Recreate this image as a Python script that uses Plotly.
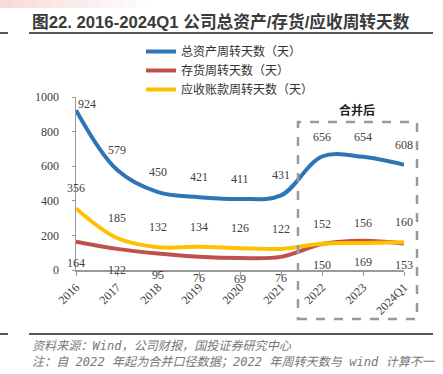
import plotly.graph_objects as go

categories = ["2016", "2017", "2018", "2019", "2020", "2021", "2022", "2023", "2024Q1"]
total_asset_days = [924, 579, 450, 421, 411, 431, 656, 654, 608]
inventory_days = [164, 122, 95, 76, 69, 76, 150, 169, 153]
receivable_days = [356, 185, 132, 134, 126, 122, 152, 156, 160]
y_ticks = [0, 200, 400, 600, 800, 1000]

series = [
    ("总资产周转天数（天）", total_asset_days, "#2E75B6", 20),
    ("存货周转天数（天）", inventory_days, "#C0504D", -21),
    ("应收账款周转天数（天）", receivable_days, "#FFC000", 20),
]

W, H = 443, 374
L, R, T, B = 76, 39, 97, 104
pw, ph = W - L - R, H - T - B


def px(x):
    return (x - L) / pw


def py(y):
    return (H - B - y) / ph


fig = go.Figure()
xs = list(range(len(categories)))
for name, vals, color, _ in series:
    fig.add_trace(go.Scatter(
        x=xs, y=vals, name=name, mode="lines",
        line=dict(color=color, width=4, shape="spline", smoothing=1.0),
        cliponaxis=False,
    ))

serif = "Liberation Serif, Noto Sans CJK SC, serif"
ann = []
for name, vals, color, off in series:
    for i, v in enumerate(vals):
        xshift, yshift = 0, off
        if name.startswith("总") and i == 0:
            xshift, yshift = 11, 6
        ann.append(dict(x=i, y=v, xref="x", yref="y", text=str(v), showarrow=False,
                        xshift=xshift, yshift=yshift,
                        font=dict(family=serif, size=12, color="#404040")))

ann.append(dict(x=px(30), y=py(22), xref="paper", yref="paper", xanchor="left", yanchor="middle",
                text="<b>图22. 2016-2024Q1 公司总资产/存货/应收周转天数</b>", showarrow=False,
                font=dict(family="Liberation Sans, Noto Sans CJK SC, sans-serif", size=16.7, color="#3a3a3a")))
ann.append(dict(x=px(357), y=py(109), xref="paper", yref="paper", xanchor="center", yanchor="middle",
                text="<b>合并后</b>", showarrow=False,
                font=dict(family="Noto Sans CJK SC", size=12, color="#222")))
foot_font = dict(family="DejaVu Sans Mono, Noto Sans CJK SC", size=12.1, color="#777")
ann.append(dict(x=px(30), y=py(346), xref="paper", yref="paper", xanchor="left", yanchor="middle",
                text="<i>资料来源：Wind，公司财报，国投证券研究中心</i>", showarrow=False,
                font=foot_font))
ann.append(dict(x=px(30), y=py(362), xref="paper", yref="paper", xanchor="left", yanchor="middle",
                text="<i>注：自 2022 年起为合并口径数据；2022 年周转天数与 wind 计算不一</i>", showarrow=False,
                font=foot_font))

shapes = []
# top-left pink gradient strip
steps = 12
for k in range(steps):
    x0 = k * 150 / steps
    x1 = (k + 1) * 150 / steps
    alpha = 0.35 * (1 - k / steps)
    shapes.append(dict(type="rect", xref="paper", yref="paper", x0=px(x0), x1=px(x1),
                       y0=py(8), y1=py(0), line=dict(width=0),
                       fillcolor=f"rgba(235,150,150,{alpha:.3f})", layer="below"))
# title underline and stubs
for yy in (33, 334):
    shapes.append(dict(type="line", xref="paper", yref="paper", x0=px(29), x1=px(433),
                       y0=py(yy), y1=py(yy), line=dict(color="#555", width=2)))
    shapes.append(dict(type="line", xref="paper", yref="paper", x0=px(0), x1=px(8),
                       y0=py(yy), y1=py(yy), line=dict(color="#555", width=2)))
# dashed box
shapes.append(dict(type="rect", xref="paper", yref="paper", x0=px(298), x1=px(417),
                   y0=py(319), y1=py(122), line=dict(color="#999", width=2.5, dash="dash")))

fig.update_layout(
    width=W, height=H, margin=dict(l=L, r=R, t=T, b=B, autoexpand=False),
    paper_bgcolor="white", plot_bgcolor="white",
    showlegend=True,
    legend=dict(x=px(141), y=py(37), xanchor="left", yanchor="top",
                font=dict(family="Noto Sans CJK SC", size=12, color="#333"),
                bgcolor="rgba(0,0,0,0)", tracegroupgap=0, itemwidth=30),
    annotations=ann, shapes=shapes,
    xaxis=dict(range=[0, len(categories) - 1], tickvals=xs, ticktext=categories, tickangle=-45,
               showgrid=False, zeroline=False, showline=True, linecolor="#999", linewidth=1.5,
               ticks="outside", ticklen=4, tickcolor="#999",
               tickfont=dict(family=serif, size=12, color="#404040")),
    yaxis=dict(range=[0, 1000], tickvals=y_ticks, showgrid=False, zeroline=False,
               showline=True, linecolor="#999", linewidth=1.5, ticks="outside", ticklen=3,
               tickcolor="#999", ticklabelstandoff=10,
               tickfont=dict(family=serif, size=12, color="#404040")),
)

fig.write_html("out.html", config={"displayModeBar": False, "staticPlot": True},
               post_script="document.body.style.margin='0';document.body.style.padding='0';")
